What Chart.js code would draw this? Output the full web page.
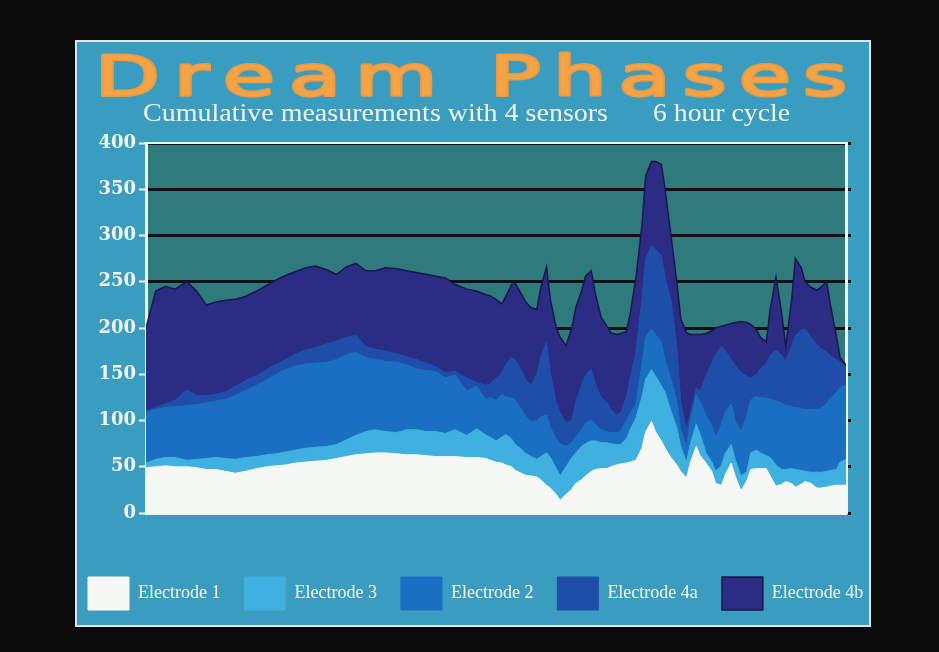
<!DOCTYPE html>
<html>
<head>
<meta charset="utf-8">
<title>Dream Phases</title>
<script src="https://cdn.jsdelivr.net/npm/chart.js@4.4.1/dist/chart.umd.min.js"></script>
<style>
  html, body { margin: 0; padding: 0; background: #0b0b0c; }
  canvas { display: block; }
</style>
</head>
<body>
<canvas id="graficoSuenio" width="939" height="652"></canvas>
<script>
// Minutos del ciclo de 6 horas (eje x, sin rotular)
const minutosCiclo = [0, 5, 10, 15, 21, 26, 31, 36, 41, 46, 51, 57, 62, 67, 72, 77, 82, 87, 93, 98,
    103, 108, 113, 118, 123, 129, 134, 139, 144, 149, 154, 159, 165, 170, 175,
    177, 180, 183, 185, 188, 190, 193, 195, 198, 201, 203, 206, 208, 211, 213, 216, 219, 221, 224, 226,
    229, 231, 234, 237, 239, 242, 244, 247, 249, 252, 255, 257, 260, 262, 265, 267, 270, 273, 275, 278,
    280, 283, 285, 288, 291, 293, 296, 298, 301, 303, 306, 309, 311, 314, 316, 319, 321, 324, 327, 329,
    332, 334, 337, 339, 342, 345, 347, 350, 352, 355, 357, 360];

// Valores por electrodo (se apilan en el gráfico)
const electrodo1 = [49, 50, 51, 50, 50, 49, 47, 47, 45, 43, 45, 48, 50, 51, 52, 54, 55, 56, 57, 59,
    61, 63, 64, 65, 65, 64, 63, 63, 62, 61, 61, 61, 60, 60, 59,
    57, 55, 54, 52, 50, 46, 43, 41, 40, 39, 36, 30, 27, 20, 14, 20, 26, 32, 36, 40,
    45, 47, 48, 48, 50, 52, 53, 54, 55, 57, 70, 88, 99, 88, 78, 70, 60, 52, 45, 38,
    55, 72, 62, 54, 45, 32, 30, 42, 54, 40, 24, 35, 47, 48, 48, 48, 40, 29, 31, 34,
    32, 28, 31, 34, 32, 27, 27, 28, 29, 30, 30, 30];
const electrodo3 = [5, 8, 9, 10, 7, 9, 12, 13, 14, 15, 15, 13, 13, 13, 14, 14, 15, 15, 15, 15,
    18, 21, 24, 25, 23, 23, 27, 27, 26, 27, 25, 29, 24, 31, 25,
    25, 23, 28, 33, 30, 28, 26, 24, 21, 19, 25, 35, 33, 28, 26, 30, 34, 33, 36, 35,
    33, 31, 28, 28, 25, 22, 21, 26, 35, 46, 55, 57, 56, 60, 60, 60, 50, 40, 27, 17,
    20, 24, 23, 11, 10, 13, 22, 23, 20, 18, 16, 10, 18, 20, 17, 14, 20, 23, 16, 13,
    16, 19, 15, 11, 12, 17, 17, 17, 17, 17, 25, 28];
const electrodo2 = [55, 54, 54, 55, 59, 59, 60, 61, 64, 69, 72, 77, 81, 86, 89, 91, 91, 91, 91, 92,
    92, 90, 80, 76, 76, 76, 70, 66, 66, 65, 60, 59, 48, 46, 38,
    43, 44, 46, 41, 44, 48, 43, 40, 38, 42, 43, 41, 32, 32, 35, 22, 16, 17, 18, 22,
    23, 18, 14, 12, 12, 13, 14, 20, 18, 15, 35, 45, 44, 45, 47, 35, 35, 28, 18, 17,
    25, 32, 35, 40, 40, 37, 44, 45, 44, 42, 48, 60, 57, 58, 60, 62, 63, 69, 72, 69,
    67, 67, 67, 67, 68, 68, 69, 73, 78, 83, 81, 80];
const electrodo4a = [1, 2, 4, 7, 17, 10, 8, 7, 8, 10, 11, 11, 11, 11, 11, 13, 15, 17, 20, 20,
    19, 18, 12, 11, 11, 9, 9, 10, 8, 5, 6, 4, 14, 4, 16,
    15, 23, 24, 34, 44, 43, 43, 40, 39, 50, 64, 79, 58, 40, 33, 26, 24, 38, 48, 53,
    54, 44, 35, 32, 25, 19, 20, 25, 37, 57, 70, 85, 90, 92, 93, 90, 85, 60, 30, 18,
    8, 7, 12, 43, 67, 90, 84, 65, 48, 60, 64, 43, 24, 24, 31, 38, 47, 55, 51, 48,
    65, 78, 85, 87, 78, 70, 65, 56, 46, 36, 27, 20];
const electrodo4b = [90, 126, 127, 120, 117, 113, 98, 100, 99, 94, 91, 91, 91, 91, 91, 89, 89, 88, 80, 72,
    76, 78, 82, 85, 90, 92, 93, 94, 96, 98, 102, 94, 96, 99, 98,
    95, 86, 74, 74, 79, 83, 82, 84, 84, 70, 75, 81, 80, 80, 82, 83, 100, 102, 102, 106,
    107, 98, 87, 82, 83, 87, 86, 71, 70, 80, 80, 90, 91, 95, 99, 95, 70, 70, 90, 105,
    85, 58, 61, 46, 35, 28, 22, 28, 39, 46, 55, 58, 58, 48, 34, 23, 50, 79, 45, 16,
    50, 83, 67, 51, 54, 59, 66, 76, 55, 26, 5, 2];

const nombresElectrodos = ['Electrode 1', 'Electrode 3', 'Electrode 2', 'Electrode 4a', 'Electrode 4b'];
const coloresElectrodos = ['#f6f8f6', '#3fb0e0', '#1b6fc1', '#1f4ea8', '#2b2c84'];

function aPuntos(valores) {
    return valores.map((v, i) => ({ x: minutosCiclo[i], y: v }));
}

// Texto ancho con letras repartidas entre x0 y x1
function textoEstirado(ctx, texto, x0, x1, yBase, escala) {
    const letras = [...texto];
    const anchos = letras.map(c => ctx.measureText(c).width * escala);
    const total = anchos.reduce((a, b) => a + b, 0);
    const hueco = letras.length > 1 ? (x1 - x0 - total) / (letras.length - 1) : 0;
    let x = x0;
    letras.forEach((c, i) => {
        ctx.save();
        ctx.translate(x, yBase);
        ctx.scale(escala, 1);
        ctx.strokeText(c, 0, 0);
        ctx.fillText(c, 0, 0);
        ctx.restore();
        x += anchos[i] + hueco;
    });
}

function textoAjustado(ctx, texto, x0, x1, yBase) {
    const escala = (x1 - x0) / ctx.measureText(texto).width;
    ctx.save();
    ctx.translate(x0, yBase);
    ctx.scale(escala, 1);
    ctx.fillText(texto, 0, 0);
    ctx.restore();
}

const pantalla = {
    id: 'pantalla',
    beforeDraw(chart) {
        const { ctx, chartArea } = chart;
        ctx.save();
        ctx.fillStyle = '#0b0b0c';
        ctx.fillRect(0, 0, chart.width, chart.height);
        ctx.fillStyle = '#3a9dc0';
        ctx.fillRect(76, 41, 794, 585);
        ctx.strokeStyle = '#cfeaf2';
        ctx.lineWidth = 2;
        ctx.strokeRect(76, 41, 794, 585);
        ctx.fillStyle = '#2f7a7c';
        ctx.fillRect(chartArea.left, chartArea.top, chartArea.right - chartArea.left, chartArea.bottom - chartArea.top);
        ctx.restore();
    },
    afterDatasetsDraw(chart) {
        const { ctx, chartArea } = chart;
        ctx.save();
        ctx.strokeStyle = '#eef6f6';
        ctx.lineWidth = 2;
        ctx.beginPath();
        ctx.moveTo(chartArea.left, chartArea.top);
        ctx.lineTo(chartArea.right + 1, chartArea.top);
        ctx.stroke();
        ctx.restore();
    },
    afterDraw(chart) {
        const ctx = chart.ctx;
        ctx.save();
        // título
        ctx.font = '56px "DejaVu Sans"';
        ctx.textBaseline = 'alphabetic';
        ctx.fillStyle = '#f4a446';
        ctx.strokeStyle = '#ee9a40';
        ctx.lineWidth = 3;
        ctx.lineJoin = 'round';
        textoEstirado(ctx, 'Dream', 95, 437, 95, 1.5);
        textoEstirado(ctx, 'Phases', 490, 847, 95, 1.5);
        // subtítulo
        ctx.font = '26px "Liberation Serif"';
        ctx.fillStyle = '#f2f4f4';
        textoAjustado(ctx, 'Cumulative measurements with 4 sensors', 143, 608, 121);
        textoAjustado(ctx, '6 hour cycle', 653, 790, 121);
        ctx.restore();
    }
};

function crearGrafico() {
    const ctx = document.getElementById('graficoSuenio').getContext('2d');
    const series = [electrodo1, electrodo3, electrodo2, electrodo4a, electrodo4b];
    new Chart(ctx, {
        type: 'line',
        data: {
            datasets: series.map((valores, i) => ({
                label: nombresElectrodos[i],
                data: aPuntos(valores),
                backgroundColor: coloresElectrodos[i],
                borderColor: i === 4 ? '#17184a' : coloresElectrodos[i],
                borderWidth: i === 4 ? 1.5 : 1,
                pointRadius: 0,
                tension: 0,
                fill: i === 0 ? 'origin' : '-1'
            }))
        },
        options: {
            responsive: false,
            devicePixelRatio: 1,
            animation: false,
            layout: {
                padding: { left: 64, right: 10, top: 143, bottom: 32 }
            },
            plugins: {
                legend: {
                    position: 'bottom',
                    align: 'start',
                    labels: {
                        boxWidth: 41,
                        boxHeight: 33,
                        padding: 24,
                        color: '#f2f4f4',
                        font: { family: 'Liberation Serif', size: 18 }
                    }
                },
                title: { display: false },
                tooltip: { enabled: false }
            },
            scales: {
                x: {
                    type: 'linear',
                    min: 0,
                    max: 360,
                    ticks: { display: false },
                    grid: { drawOnChartArea: false, drawTicks: false },
                    border: { display: true, color: '#f2f6f6', width: 3 },
                    afterFit: scale => { scale.height = 40; }
                },
                y: {
                    stacked: true,
                    min: 0,
                    max: 400,
                    ticks: {
                        stepSize: 50,
                        padding: 3,
                        color: '#f2f4f4',
                        font: { family: 'DejaVu Serif', size: 18, weight: 'bold' }
                    },
                    grid: {
                        color: '#0e1214',
                        lineWidth: 3,
                        tickColor: '#f2f6f6',
                        tickLength: 7,
                        tickWidth: 2
                    },
                    border: { display: true, color: '#f2f6f6', width: 3 },
                    afterFit: scale => { scale.width = 82; }
                },
                y2: {
                    position: 'right',
                    min: 0,
                    max: 400,
                    ticks: { display: false, stepSize: 50 },
                    grid: {
                        drawOnChartArea: false,
                        tickColor: '#0e1214',
                        tickLength: 5,
                        tickWidth: 3
                    },
                    border: { display: true, color: '#eef6f6', width: 3 },
                    afterFit: scale => { scale.width = 83; }
                }
            }
        },
        plugins: [pantalla]
    });
}

document.addEventListener('DOMContentLoaded', crearGrafico);
</script>
</body>
</html>
